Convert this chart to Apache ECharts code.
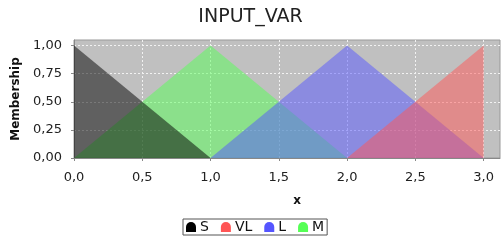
<!DOCTYPE html>
<html><head><meta charset="utf-8">
<script src="https://cdn.jsdelivr.net/npm/echarts@6/dist/echarts.min.js"></script>
<style>html,body{margin:0;padding:0;background:#fff;overflow:hidden}#c{width:501px;height:246px}</style>
</head><body><div id="c"></div>
<script>
const seriesNames = ['S', 'VL', 'L', 'M'];
const S  = [[0, 1], [1, 0]];
const VL = [[2, 0], [3, 1], [3, 0]];
const L  = [[1, 0], [2, 1], [3, 0]];
const M  = [[0, 0], [1, 1], [2, 0]];
const xTicks = [0, 0.5, 1, 1.5, 2, 2.5, 3];
const yTicks = [0, 0.25, 0.5, 0.75, 1];

const font = 'DejaVu Sans';
const icon = 'path://M0,10 L0,5 A5,5 0 0 1 10,5 L10,10 Z';
function mk(name, data, color, fill) {
  return {
    name, type: 'line', data, symbol: 'none', silent: true,
    itemStyle: { color },
    lineStyle: { width: 0, color },
    areaStyle: { color: fill, opacity: 1 }
  };
}
const chart = echarts.init(document.getElementById('c'), null, { renderer: 'canvas' });
chart.setOption({
  animation: false,
  backgroundColor: '#fff',
  title: {
    text: 'INPUT_VAR', left: 'center', top: 3,
    textStyle: { fontFamily: font, fontSize: 19, fontWeight: 'normal', color: '#222' }
  },
  legend: {
    data: seriesNames, top: 219, left: 183,
    icon: icon, itemWidth: 10, itemHeight: 10, itemGap: 12,
    borderColor: '#555', borderWidth: 1, padding: [1, 3],
    textStyle: { fontFamily: font, fontSize: 14, color: '#111', padding: [0, 0, 0, -1] }
  },
  grid: {
    left: 74, right: 1, top: 40, bottom: 88,
    show: true, backgroundColor: '#c0c0c0', borderColor: '#999', borderWidth: 1
  },
  xAxis: {
    type: 'value', min: 0, max: 3.12, interval: 0.5, offset: 6,
    name: 'x', nameLocation: 'middle', nameGap: 31,
    nameTextStyle: { fontFamily: font, fontSize: 12, fontWeight: 'bold', color: '#111', padding: [0, 0, 0, 20] },
    axisLine: { show: true, lineStyle: { color: '#888' } },
    axisTick: { show: true, length: 3, lineStyle: { color: '#888' } },
    axisLabel: {
      fontFamily: font, fontSize: 13, color: '#222', margin: 7, showMaxLabel: false,
      formatter: v => xTicks.some(t => Math.abs(t - v) < 1e-9) ? v.toFixed(1).replace('.', ',') : ''
    },
    splitLine: { show: true, showMinLine: false, showMaxLine: false, lineStyle: { color: '#f2f2f2', type: [2, 2], width: 1 } }
  },
  yAxis: {
    type: 'value', min: 0, max: 1.05, interval: 0.25, offset: 4,
    name: 'Membership', nameLocation: 'middle', nameGap: 48, nameRotate: 90,
    nameTextStyle: { fontFamily: font, fontSize: 12, fontWeight: 'bold', color: '#111' },
    axisLine: { show: true, lineStyle: { color: '#888' } },
    axisTick: { show: true, length: 3, lineStyle: { color: '#888' } },
    axisLabel: {
      fontFamily: font, fontSize: 13, color: '#222', margin: 8, showMaxLabel: false,
      formatter: v => yTicks.some(t => Math.abs(t - v) < 1e-9) ? v.toFixed(2).replace('.', ',') : ''
    },
    splitLine: { show: true, showMinLine: false, showMaxLine: false, lineStyle: { color: '#f2f2f2', type: [2, 2], width: 1 } }
  },
  series: [
    mk('M', M, '#55ff55', 'rgba(85,255,85,0.5)'),
    mk('L', L, '#5555ff', 'rgba(85,85,255,0.5)'),
    mk('VL', VL, '#ff5555', 'rgba(255,85,85,0.5)'),
    mk('S', S, '#000000', 'rgba(0,0,0,0.5)')
  ]
});
</script></body></html>
